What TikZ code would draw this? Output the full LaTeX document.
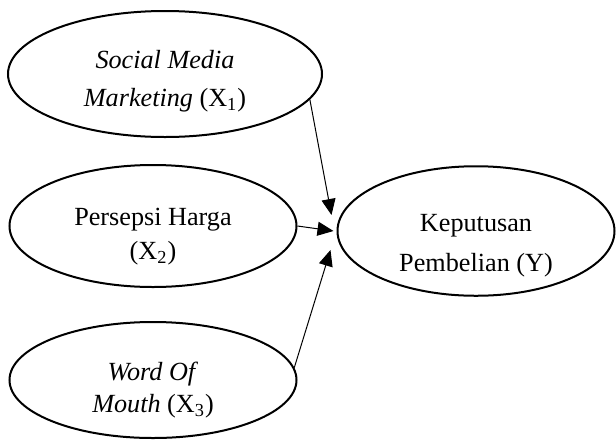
\documentclass[tikz,border=0pt]{standalone}
\usepackage{fontspec}
\setmainfont{Liberation Serif}
\usetikzlibrary{arrows.meta,shapes.geometric}

\begin{document}
\begin{tikzpicture}[
  x=0.5pt, y=-0.5pt,
  var/.style={draw, ellipse, line width=1pt, align=center, inner sep=0pt, font=\fontsize{13.1}{18}\selectfont, text height=35pt},
  arr/.style={-{Triangle[length=8pt, width=7pt]}, line width=0.5pt}
]
\useasboundingbox (0,0) rectangle (616,440);
% independent variables
\node[var, minimum width=157pt, minimum height=63pt] (x1) at (165,74) {\textit{Social Media}\\[1pt]\textit{Marketing} (X\textsubscript{1})};
\node[var, minimum width=143.5pt, minimum height=61pt, text height=36pt] (x2) at (153,226) {Persepsi Harga\\[-1pt](X\textsubscript{2})};
\node[var, minimum width=143.5pt, minimum height=58pt] (x3) at (153,380) {\textit{Word Of}\\[-2pt]\textit{Mouth} (X\textsubscript{3})};
% dependent variable
\node[var, minimum width=138.5pt, minimum height=56.5pt, text height=43pt] (y) at (476,231) {Keputusan\\[2pt]Pembelian (Y)};
\coordinate (in1) at ([shift={(-2.5pt,8pt)}]y.west);
\coordinate (in2) at ([xshift=-1.5pt]y.west);
\coordinate (in3) at ([shift={(-3pt,-9.5pt)}]y.west);
\draw[arr] (x1.-10) -- (in1);
\draw[arr] (x2.east) -- (in2);
\draw[arr] (x3.5) -- (in3);
\end{tikzpicture}
\end{document}
